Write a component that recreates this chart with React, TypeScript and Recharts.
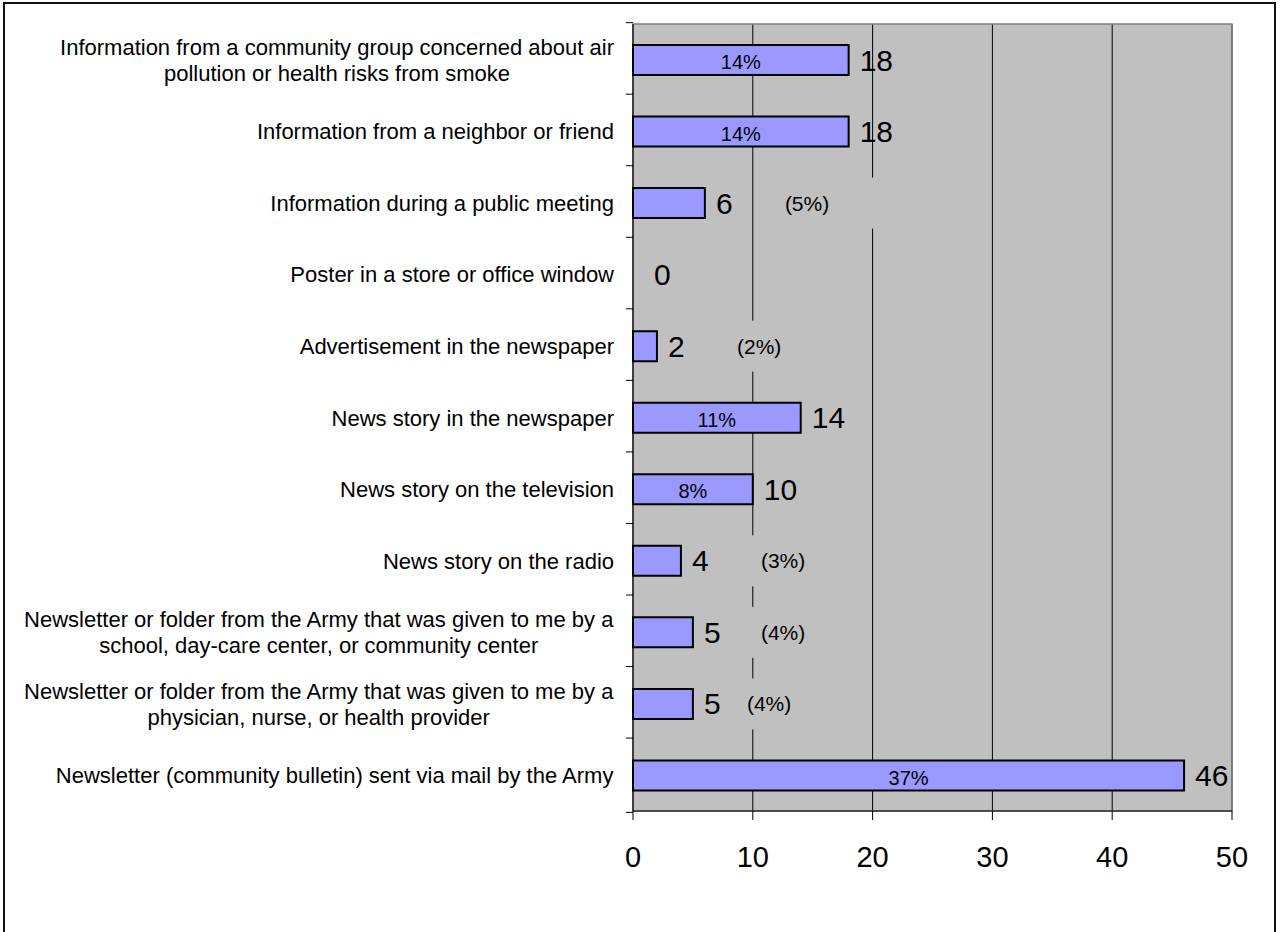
import React from 'react';
import {
  BarChart,
  Bar,
  Cell,
  XAxis,
  YAxis,
  CartesianGrid,
  ReferenceArea,
  LabelList,
} from 'recharts';

const CATEGORIES = [
  'Information from a community group concerned about air\npollution or health risks from smoke',
  'Information from a neighbor or friend',
  'Information during a public meeting',
  'Poster in a store or office window',
  'Advertisement in the newspaper',
  'News story in the newspaper',
  'News story on the television',
  'News story on the radio',
  'Newsletter or folder from the Army that was given to me by a\nschool, day-care center, or community center',
  'Newsletter or folder from the Army that was given to me by a\nphysician, nurse, or health provider',
  'Newsletter (community bulletin) sent via mail by the Army',
];
const COUNTS = [18, 18, 6, 0, 2, 14, 10, 4, 5, 5, 46];
const SHARES = [14, 14, 5, 0, 2, 11, 8, 3, 4, 4, 37];
const X_TICKS = [0, 10, 20, 30, 40, 50];

// small bars get their share written outside, a bit further right
const INSIDE_MIN = 10;
// hand-moved outside labels in the original
const OUTSIDE_NUDGE: Record<number, number> = { 8: -12, 9: -26 };

const W = 1283;
const H = 932;
const MARGIN = { top: 24, right: 51, bottom: 91, left: 0 };
const AXIS_W = 633;
const PLOT_H = H - MARGIN.top - MARGIN.bottom;
const BAND = PLOT_H / CATEGORIES.length;
const FONT = '"Liberation Sans", Arial, sans-serif';
const GRAY = '#C0C0C0';

const data = CATEGORIES.map((name, i) => ({
  idx: i,
  name,
  count: COUNTS[i],
  share: SHARES[i],
}));
type Row = (typeof data)[number];

let measureCtx: CanvasRenderingContext2D | null = null;
function textWidth(s: string, size: number): number {
  if (!measureCtx) measureCtx = document.createElement('canvas').getContext('2d');
  if (!measureCtx) return s.length * size * 0.5;
  measureCtx.font = `${size}px ${FONT}`;
  return measureCtx.measureText(s).width;
}

// Category label, multi-line centred, with Excel-style ticks between categories
// eslint-disable-next-line @typescript-eslint/no-explicit-any
function CategoryTick(props: any) {
  const { x, y, payload, index } = props;
  const lines: string[] = String(payload.value).split('\n');
  const size = 22;
  const lh = 26;
  const right = x - 19;
  const blockW = Math.max(...lines.map((l) => textWidth(l, size)));
  const cx = right - blockW / 2;
  const first = y + 8 - ((lines.length - 1) * lh) / 2;
  const half = BAND / 2;
  return (
    <g>
      <line x1={x - 7} x2={x} y1={y - half} y2={y - half} stroke="#000" />
      {index === CATEGORIES.length - 1 && (
        <line x1={x - 7} x2={x} y1={y + half} y2={y + half} stroke="#000" />
      )}
      {lines.map((l, i) => (
        <text
          key={i}
          x={cx}
          y={first + i * lh}
          textAnchor="middle"
          fontSize={size}
          fontFamily={FONT}
          fill="#000"
        >
          {l}
        </text>
      ))}
    </g>
  );
}

// eslint-disable-next-line @typescript-eslint/no-explicit-any
function CountLabel(props: any) {
  const { x, y, width, height, value } = props;
  const row = value as Row;
  const cy = y + height / 2;
  // Excel leaves a wider gap after an empty bar
  const gap = row.count === 0 ? 20 : 11;
  return (
    <text x={x + width + gap} y={cy + 10.5} fontSize={30} fontFamily={FONT} fill="#000">
      {String(row.count)}
    </text>
  );
}

// eslint-disable-next-line @typescript-eslint/no-explicit-any
function ShareLabel(props: any) {
  const { x, y, width, height, value } = props;
  const row = value as Row;
  if (!row.share) return null;
  const cy = y + height / 2;
  if (row.count >= INSIDE_MIN) {
    return (
      <text
        x={x + width / 2}
        y={cy + 2 + 20 * 0.36}
        textAnchor="middle"
        fontSize={20}
        fontFamily={FONT}
        fill="#000"
      >
        {`${row.share}%`}
      </text>
    );
  }
  const size = 21;
  const txt = `(${row.share}%)`;
  const left = x + width + 80 + (OUTSIDE_NUDGE[row.idx] ?? 0);
  const tw = textWidth(txt, size);
  return (
    <g>
      <rect x={left - 12} y={cy - 25.5} width={tw + 62} height={51} fill={GRAY} />
      <text x={left} y={cy + size * 0.36} fontSize={size} fontFamily={FONT} fill="#000">
        {txt}
      </text>
    </g>
  );
}

export default function App() {
  return (
    <div
      style={{
        position: 'absolute',
        left: 0,
        top: 0,
        width: W,
        height: H,
        overflow: 'hidden',
        background: '#fff',
      }}
    >
      <div
        style={{
          position: 'absolute',
          left: 3,
          top: 2,
          width: 1269,
          height: H + 20,
          border: '2px solid #111',
        }}
      />
      <div style={{ position: 'absolute', left: 0, top: 0 }}>
        <BarChart width={W} height={H} data={data} layout="vertical" margin={MARGIN}>
          <CartesianGrid horizontal={false} stroke="#000" fill={GRAY} fillOpacity={1} />
          <ReferenceArea x1={0} x2={50} fill="none" stroke="#808080" strokeWidth={1.5} />
          <XAxis
            type="number"
            domain={[0, 50]}
            ticks={X_TICKS}
            interval={0}
            axisLine={{ stroke: '#000' }}
            tickLine={{ stroke: '#000' }}
            tickSize={9}
            tickMargin={26}
            tick={{ fontSize: 29, fill: '#000', fontFamily: FONT }}
          />
          <YAxis
            type="category"
            dataKey="name"
            width={AXIS_W}
            interval={0}
            axisLine={{ stroke: '#000' }}
            tickLine={false}
            tickSize={0}
            tickMargin={0}
            tick={<CategoryTick />}
          />
          <Bar
            dataKey="count"
            fill="#9999FF"
            stroke="#000"
            strokeWidth={2}
            barSize={30}
            minPointSize={1}
            isAnimationActive={false}
          >
            {data.map((d) => (
              <Cell key={d.idx} stroke={d.count ? '#000' : 'none'} fill={d.count ? '#9999FF' : 'none'} />
            ))}
            <LabelList dataKey={(d: Row) => d} content={(p) => <CountLabel {...p} />} />
            <LabelList dataKey={(d: Row) => d} content={(p) => <ShareLabel {...p} />} />
          </Bar>
        </BarChart>
      </div>
    </div>
  );
}
